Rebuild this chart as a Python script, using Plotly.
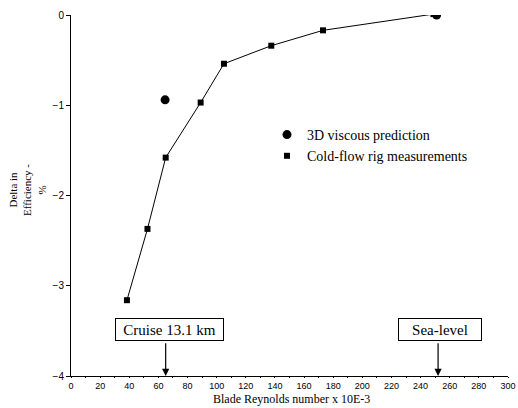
import plotly.graph_objects as go

# Blade Reynolds number (x 10E-3) and efficiency delta (%)
rig_re = [38.4, 52.5, 65, 89, 105, 137.5, 173, 248.8]
rig_delta = [-3.16, -2.37, -1.58, -0.97, -0.54, -0.34, -0.17, 0.01]

cfd_re = [64.6, 251]
cfd_delta = [-0.94, 0.0]

x_ticks = list(range(0, 301, 20))
y_ticks = [0, -1, -2, -3, -4]

serif = "Liberation Serif"
sans = "Liberation Sans"

L, R, T, B = 71, 10, 15, 32
W, H = 518, 408
pw, ph = W - L - R, H - T - B

fig = go.Figure()

fig.add_trace(go.Scatter(
    x=cfd_re, y=cfd_delta, mode="markers", name="3D viscous prediction",
    marker=dict(symbol="circle", size=9, color="black"),
))
# connecting line for the rig data, markers drawn as their own legend entry
fig.add_trace(go.Scatter(
    x=rig_re, y=rig_delta, mode="lines", showlegend=False,
    line=dict(color="black", width=1), hoverinfo="skip",
))
fig.add_trace(go.Scatter(
    x=rig_re, y=rig_delta, mode="markers", name="Cold-flow rig measurements",
    marker=dict(symbol="square", size=6, color="black"),
))

# Flight-condition callouts with arrows down to the axis
callouts = [("Cruise 13.1 km", 67.5, 65, 109), ("Sea-level", 253.4, 252, 84)]
for text, box_x, arrow_x, w in callouts:
    fig.add_annotation(
        x=box_x, y=-3.49, xref="x", yref="y", text=text, showarrow=False,
        font=dict(family=serif, size=15, color="black"),
        bordercolor="black", borderwidth=1, bgcolor="white",
        width=w - 4, height=19, borderpad=1,
    )
    fig.add_annotation(
        x=arrow_x, y=-4.0, ax=arrow_x, ay=-3.62, xref="x", yref="y",
        axref="x", ayref="y", text="", showarrow=True,
        arrowhead=2, arrowsize=1.2, arrowwidth=1.2, arrowcolor="black",
    )

# Axis titles
fig.add_annotation(
    x=(291 - L) / pw, y=-(399 - T - ph) / ph, xref="paper", yref="paper",
    xanchor="center", yanchor="middle",
    text="Blade Reynolds number x 10E-3", showarrow=False,
    font=dict(family=serif, size=12, color="black"),
)
fig.add_annotation(
    x=-(L - 27) / pw, y=1 - (190 - T) / ph, xref="paper", yref="paper",
    xanchor="center", yanchor="middle",
    text="Delta in<br>Efficiency -<br>%", showarrow=False, textangle=-90,
    font=dict(family=serif, size=11, color="black"),
)

fig.update_layout(
    width=W, height=H,
    margin=dict(l=L, r=R, t=T, b=B),
    plot_bgcolor="white", paper_bgcolor="white",
    showlegend=True,
    legend=dict(
        x=(267 - L) / pw, y=1 - (119 - T) / ph, xanchor="left", yanchor="top",
        font=dict(family=serif, size=14, color="black"),
        bgcolor="rgba(0,0,0,0)", tracegroupgap=0, itemwidth=30,
    ),
    xaxis=dict(
        range=[0, 300], tickvals=x_ticks, showgrid=False, zeroline=False,
        showline=True, linecolor="black", linewidth=1,
        ticks="outside", ticklen=1, tickcolor="black",
        minor=dict(dtick=10, ticks="outside", ticklen=1, tickcolor="black"),
        tickfont=dict(family=sans, size=9, color="black"),
        automargin=False,
    ),
    yaxis=dict(
        range=[-4, 0], tickvals=y_ticks, showgrid=False, zeroline=False,
        showline=True, linecolor="black", linewidth=1,
        ticks="outside", ticklen=4, tickcolor="black",
        tickfont=dict(family=sans, size=10, color="black"),
        automargin=False,
    ),
)

fig.write_html("out.html")
